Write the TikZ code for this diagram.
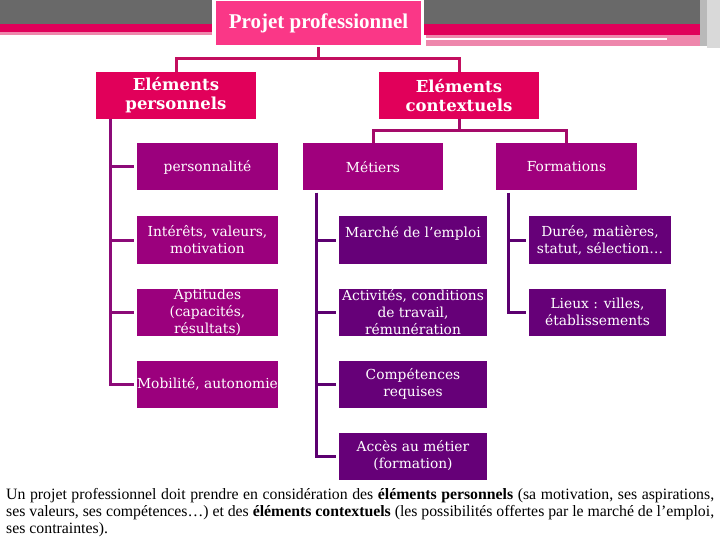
\documentclass[tikz,border=0pt]{standalone}
\usepackage{fontspec}
\setmainfont{Liberation Serif}
\newfontfamily\boxfont{DejaVu Serif}
\usetikzlibrary{calc}

\definecolor{bandgray}{RGB}{105,105,105}
\definecolor{bandred}{RGB}{224,0,90}
\definecolor{bandpink}{RGB}{238,135,172}
\definecolor{titlepink}{RGB}{250,55,135}
\definecolor{elemred}{RGB}{225,0,90}
\definecolor{headpurple}{RGB}{160,0,125}
\definecolor{persopurple}{RGB}{155,0,125}
\definecolor{ctxpurple}{RGB}{102,0,120}
\definecolor{linkred}{RGB}{195,15,95}
\definecolor{linkmag}{RGB}{165,10,105}
\definecolor{linkpurple}{RGB}{140,10,120}
\definecolor{linkdark}{RGB}{92,0,112}

\tikzset{
  titlebox/.style={draw=white,line width=2pt,fill=titlepink,text=white,minimum width=207pt,minimum height=46pt,inner sep=0pt,font=\fontsize{21}{23}\selectfont\bfseries},
  elembox/.style={fill=elemred,text=white,minimum width=160pt,minimum height=47pt,inner sep=0pt,align=center,font=\boxfont\fontsize{16.5}{19}\selectfont\bfseries},
  leafbox/.style={text=white,minimum height=47pt,inner sep=0pt,align=center,font=\boxfont\fontsize{13.8}{17}\selectfont},
  headbox/.style={leafbox,fill=headpurple,minimum width=141pt},
  persobox/.style={leafbox,fill=persopurple,minimum width=141pt},
  ctxbox/.style={leafbox,fill=ctxpurple,minimum width=148pt},
  formbox/.style={leafbox,fill=ctxpurple,minimum width=142pt},
  toplink/.style={draw=linkred,line width=3pt},
  midlink/.style={draw=linkmag,line width=3pt},
  plink/.style={draw=linkpurple,line width=3pt},
  clink/.style={draw=linkdark,line width=3pt}
}

\begin{document}
\begin{tikzpicture}[x=1pt,y=-1pt]
\useasboundingbox (0,0) rectangle (720,540);
% bandeau du haut
\fill[bandgray] (0,0) rectangle (212,24);
\fill[bandred] (0,24) rectangle (212,32);
\fill[bandpink] (0,32) rectangle (212,35);
\fill[bandgray] (424,0) rectangle (700,24);
\fill[bandred] (424,24) rectangle (700,35);
\fill[bandpink] (426,35) rectangle (707,46);
\fill[white] (426,38.5) rectangle (667,40.5);
\fill[gray!55] (700,0) rectangle (707,46);
\fill[gray!30] (707,0) rectangle (720,48);

\node[titlebox] (projet) at (318.5,23) {Projet professionnel};
\node[elembox] (perso) at (176,95.5) {Eléments\\personnels};
\node[elembox] (contexte) at (459,95.5) {Eléments\\contextuels};

\node[persobox] (personnalite) at (207.5,167) {personnalité};
\node[persobox] (interets) at (207.5,240) {Intérêts, valeurs,\\motivation};
\node[persobox] (aptitudes) at (207.5,312) {Aptitudes\\(capacités,\\résultats)};
\node[persobox] (mobilite) at (207.5,384) {Mobilité, autonomie};

\node[headbox,minimum width=140pt] (metiers) at (373,167) {Métiers};
\node[ctxbox] (marche) at (413,240) {Marché de l’emploi\\~};
\node[ctxbox] (activites) at (413,312) {Activités, conditions\\de travail,\\rémunération};
\node[ctxbox] (competences) at (413,384) {Compétences\\requises};
\node[ctxbox] (acces) at (413,456) {Accès au métier\\(formation)};

\node[headbox] (formations) at (566.5,167) {Formations};
\node[formbox] (duree) at (600,240) {Durée, matières,\\statut, sélection…};
\node[formbox,minimum width=137pt] (lieux) at (597.5,312) {Lieux : villes,\\établissements};

\draw[toplink] (projet.south) -- (projet.south |- 0,59);
\draw[toplink] (perso.north) |- (contexte.north |- 0,59) -- (contexte.north);
\draw[midlink] (contexte.south) -- (contexte.south |- 0,131);
\draw[midlink] (metiers.north) |- (formations.north |- 0,131) -- (formations.north);

\coordinate (pspine) at (110,119);
\coordinate (mspine) at (316,193);
\coordinate (fspine) at (508,193);
\foreach \n in {personnalite,interets,aptitudes,mobilite}
  \draw[plink] (pspine) |- ([xshift=-3pt]\n.west);
\foreach \n in {marche,activites,competences,acces}
  \draw[clink] (mspine) |- ([xshift=-3pt]\n.west);
\foreach \n in {duree,lieux}
  \draw[clink] (fspine) |- ([xshift=-3pt]\n.west);

\node[anchor=north west,text width=708pt,align=justify,inner sep=0pt,font=\fontsize{15.8}{17}\selectfont] (legende) at (6,488)
  {\hyphenpenalty=10000 Un projet professionnel doit prendre en considération des \textbf{éléments personnels} (sa motivation, ses aspirations,\linebreak ses valeurs, ses compétences…) et des \textbf{éléments contextuels} (les possibilités offertes par le marché de l’emploi,\linebreak ses contraintes).};
\end{tikzpicture}
\end{document}
